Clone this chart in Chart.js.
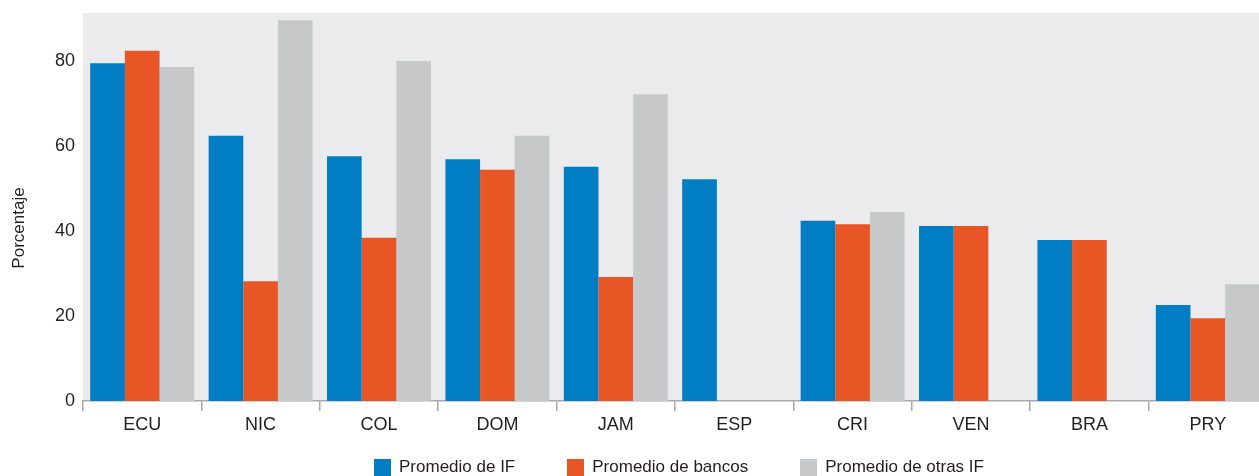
<!DOCTYPE html>
<html>
<head>
<meta charset="utf-8">
<script src="https://cdn.jsdelivr.net/npm/chart.js@4/dist/chart.umd.min.js"></script>
<style>
  html, body { margin: 0; padding: 0; overflow: hidden; background: #ffffff; }
  #wrap { position: relative; width: 1270px; height: 476px; }
  #legend { position: absolute; left: 0; width: 1358px; top: 458px; display: flex; justify-content: center; gap: 52px;
            font-family: 'Liberation Sans', Arial, sans-serif;
            font-size: 17px; line-height: 18px; color: #231F20; white-space: nowrap; }
  #legend .item { display: flex; align-items: center; }
  #legend .box { width: 17px; height: 17px; margin-right: 8px; }
</style>
</head>
<body>
<div id="wrap">
  <canvas id="c" width="1270" height="476"></canvas>
  <div id="legend"></div>
</div>
<script>
const categories = ['ECU', 'NIC', 'COL', 'DOM', 'JAM', 'ESP', 'CRI', 'VEN', 'BRA', 'PRY'];
const seriesNames = ['Promedio de IF', 'Promedio de bancos', 'Promedio de otras IF'];
const promedioIF = [79.5, 62.4, 57.6, 56.9, 55.1, 52.2, 42.4, 41.2, 37.9, 22.6];
const promedioBancos = [82.4, 28.2, 38.4, 54.4, 29.2, null, 41.6, 41.2, 37.9, 19.5];
const promedioOtras = [78.6, 89.6, 80.0, 62.4, 72.2, null, 44.5, null, null, 27.5];
const yTicks = [0, 20, 40, 60, 80];
const yTitle = 'Porcentaje';

const FONT = "'Liberation Sans', Arial, sans-serif";
const TEXT = '#231F20';
const colors = ['#007DC3', '#E85626', '#C7C8CA'];

const bgPlugin = {
  id: 'plotBg',
  beforeDraw(chart) {
    const {ctx, chartArea: a} = chart;
    ctx.save();
    ctx.fillStyle = '#EBEBED';
    ctx.fillRect(a.left, a.top, a.right - a.left, a.bottom - a.top);
    ctx.restore();
  }
};

const yTitlePlugin = {
  id: 'yTitle',
  afterDraw(chart) {
    const {ctx} = chart;
    ctx.save();
    ctx.translate(19, 228);
    ctx.rotate(-Math.PI / 2);
    ctx.font = '17px ' + FONT;
    ctx.fillStyle = TEXT;
    ctx.textAlign = 'center';
    ctx.textBaseline = 'middle';
    ctx.fillText(yTitle, 0, 0);
    ctx.restore();
  }
};

const chart = new Chart(document.getElementById('c'), {
  type: 'bar',
  data: {
    labels: categories,
    datasets: [
      { label: seriesNames[0], data: promedioIF, backgroundColor: colors[0] },
      { label: seriesNames[1], data: promedioBancos, backgroundColor: colors[1] },
      { label: seriesNames[2], data: promedioOtras, backgroundColor: colors[2] }
    ]
  },
  options: {
    responsive: false,
    animation: false,
    layout: { padding: { top: 13, right: 3, bottom: 39, left: 0 } },
    datasets: { bar: { categoryPercentage: 0.878, barPercentage: 1.0, borderWidth: 0 } },
    plugins: { legend: { display: false }, tooltip: { enabled: false } },
    scales: {
      x: {
        grid: { display: true, drawOnChartArea: false, drawTicks: true, tickLength: 10, color: '#A7A9AC', lineWidth: 1.5, offset: true },
        border: { display: true, color: '#A7A9AC', width: 1.5 },
        ticks: { color: TEXT, font: { family: FONT, size: 18 }, padding: 3, maxRotation: 0 },
        afterFit(scale) { scale.height = 36; scale.paddingLeft = 0; scale.paddingRight = 0; }
      },
      y: {
        min: 0, max: 91.3,
        grid: { display: false, drawTicks: false },
        border: { display: false },
        ticks: { stepSize: 20, color: TEXT, font: { family: FONT, size: 18 }, padding: 8 },
        afterBuildTicks(scale) { scale.ticks = yTicks.map(v => ({ value: v })); },
        afterFit(scale) { scale.width = 83; scale.paddingTop = 0; scale.paddingBottom = 0; }
      }
    }
  },
  plugins: [bgPlugin, yTitlePlugin]
});

const legendEl = document.getElementById('legend');
chart.options.plugins.legend.labels.generateLabels(chart).forEach(item => {
  const d = document.createElement('div'); d.className = 'item';
  const b = document.createElement('span'); b.className = 'box'; b.style.background = item.fillStyle;
  const t = document.createElement('span'); t.textContent = item.text;
  d.appendChild(b); d.appendChild(t); legendEl.appendChild(d);
});
</script>
</body>
</html>
